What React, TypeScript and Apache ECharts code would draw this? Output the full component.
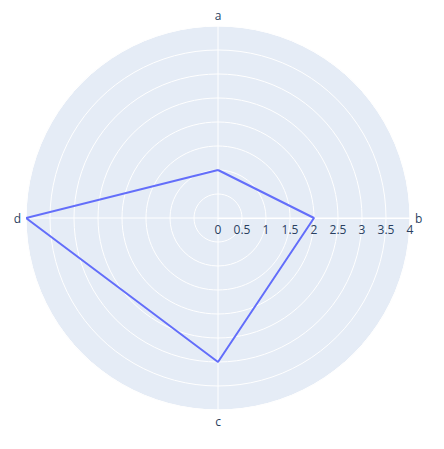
import React, { useEffect, useRef } from "react";
import * as echarts from "echarts";

const categories = ["a", "b", "c", "d"];
const values = [1, 2, 3, 4];
const radialMax = 4;
const radialStep = 0.5;

const FONT = '"Open Sans", verdana, arial, sans-serif';
const TEXT = "#2a3f5f";

export default function App() {
  const ref = useRef<HTMLDivElement>(null);
  useEffect(() => {
    if (!ref.current) return;
    const chart = echarts.init(ref.current, undefined, { renderer: "svg" });
    const step = 360 / categories.length;
    // angle axis runs clockwise from 0 deg (right) so the radial labels lie horizontally;
    // first category sits at the top (270 deg), the rest follow clockwise
    const angleOf = (i: number) => (((i - 1) * step) % 360 + 360) % 360;
    const pts = categories.map((c, i) => [values[i], angleOf(i)]);
    pts.push(pts[0]);
    const labelOf = (v: number) => {
      const i = categories.findIndex((_, k) => angleOf(k) === v);
      return i >= 0 ? categories[i] : "";
    };
    chart.setOption({
      animation: false,
      backgroundColor: "#ffffff",
      polar: [
        { center: [218, 218], radius: 192 },
        { center: [218, 218], radius: 192 },
      ],
      angleAxis: [
        {
          polarIndex: 0,
          type: "value",
          min: 0,
          max: 360,
          interval: 180,
          startAngle: 0,
          axisLine: { show: false },
          axisTick: { show: false },
          axisLabel: { show: false },
          splitLine: { show: false },
          splitArea: { show: true, areaStyle: { color: ["#e5ecf6", "#e5ecf6"] } },
          z: 0,
        },
        {
          polarIndex: 1,
          type: "value",
          min: 0,
          max: 360,
          interval: step,
          startAngle: 0,
          clockwise: true,
          axisLine: { show: true, lineStyle: { color: "#ffffff", width: 1 } },
          axisTick: { show: false },
          axisLabel: {
            color: TEXT,
            fontSize: 12,
            fontFamily: FONT,
            margin: 5,
            formatter: (v: number) => labelOf(v),
          },
          splitLine: { show: true, lineStyle: { color: "#ffffff", width: 1 } },
          z: 2,
        },
      ],
      radiusAxis: [
        {
          polarIndex: 0,
          type: "value",
          min: 0,
          max: radialMax,
          show: false,
        },
        {
          polarIndex: 1,
          type: "value",
          min: 0,
          max: radialMax,
          interval: radialStep,
          axisLine: { show: true, lineStyle: { color: "#ffffff", width: 1 } },
          axisTick: { show: false },
          axisLabel: {
            color: TEXT,
            fontSize: 12,
            fontFamily: FONT,
            margin: -5,
            verticalAlign: "top",
            showMinLabel: true,
            showMaxLabel: true,
          },
          splitLine: { show: true, lineStyle: { color: "#ffffff", width: 1 } },
          z: 2,
        },
      ],
      series: [
        {
          type: "line",
          coordinateSystem: "polar",
          polarIndex: 1,
          data: pts,
          symbol: "none",
          clip: false,
          lineStyle: { color: "#636efa", width: 2 },
          z: 3,
        },
      ],
    });
    return () => chart.dispose();
  }, []);
  return (
    <div
      ref={ref}
      style={{ position: "fixed", left: 0, top: 0, width: 444, height: 449 }}
    />
  );
}
